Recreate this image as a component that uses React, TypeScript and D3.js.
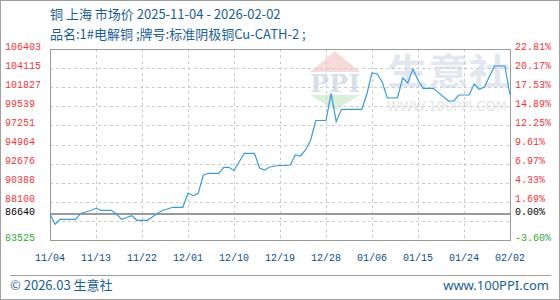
import React from "react";
import * as d3 from "d3";

const W = 560;
const H = 300;

const title = "铜 上海 市场价 2025-11-04 - 2026-02-02";
const subtitle = "品名:1#电解铜 ;牌号:标准阴极铜Cu-CATH-2 ;";
const footerLeft = "© 2026.03 生意社";
const footerRight = "www.100PPI.com";

const startDate = new Date(2025, 10, 4);
const endDate = new Date(2026, 1, 2);

const prices = [
  86640, 85406, 86005, 86005, 86005, 86005, 86699, 86879, 87059, 87322,
  87083, 87083, 87083, 86640, 86005, 86220, 86436, 85885, 85885, 85885,
  86280, 86699, 87059, 87238, 87442, 87442, 87442, 89155, 88831, 89119,
  91311, 91514, 91514, 91514, 92233, 92233, 91850, 92868, 93910, 93910,
  93910, 92149, 91910, 92269, 92389, 92449, 92449, 92509, 93706, 93587,
  94305, 95503, 97839, 97839, 97839, 101097, 97695, 99180, 99180, 99180,
  99180, 99180, 101013, 103564, 103408, 102450, 100534, 100534, 100570, 102929,
  102330, 104007, 102690, 101696, 101696, 101696, 101181, 100654, 100174, 100174,
  100893, 100893, 100893, 102211, 101576, 101851, 103169, 104367, 104367, 104367,
  100893,
];

const xLabels = ["11/04", "11/13", "11/22", "12/01", "12/10", "12/19", "12/28", "01/06", "01/15", "01/24", "02/02"];
const xLabelDates = [
  new Date(2025, 10, 4), new Date(2025, 10, 13), new Date(2025, 10, 22), new Date(2025, 11, 1),
  new Date(2025, 11, 10), new Date(2025, 11, 19), new Date(2025, 11, 28), new Date(2026, 0, 6),
  new Date(2026, 0, 15), new Date(2026, 0, 24), new Date(2026, 1, 2),
];

const yMax = 106403;
const yMin = 83525;
const baseValue = 86640;
const yTickValues = [106403, 104115, 101827, 99539, 97251, 94964, 92676, 90388, 88100, 83525];
const pctLabels = ["22.81%", "20.17%", "17.53%", "14.89%", "12.25%", "9.61%", "6.97%", "4.33%", "1.69%", "-3.60%"];
const gridValues = [104115, 101827, 99539, 97251, 94964, 92676, 90388, 88100, 85813];

const PL = 50, PR = 510, PT = 49, PB = 240;

export default function App() {
  const dates = d3.timeDay.range(startDate, d3.timeDay.offset(endDate, 1));
  const data = prices.map((v, i) => ({ d: dates[i], v }));

  const x = d3.scaleTime().domain([startDate, endDate]).range([PL, PR]);
  const y = d3.scaleLinear().domain([yMin, yMax]).range([PB, PT]);

  const line = d3
    .line<{ d: Date; v: number }>()
    .x((p) => x(p.d))
    .y((p) => y(p.v));

  const blue = "#1b5e92";
  const red = "#f0363c";
  const green = "#36a936";
  const mono = "'Liberation Mono', 'DejaVu Sans Mono', monospace";
  const cjk = "'Noto Sans CJK SC', 'Noto Sans', sans-serif";

  return (
    <svg
      width={W}
      height={H}
      style={{ position: "absolute", left: 0, top: 0, background: "#fff" }}
    >
      <rect x={0.5} y={0.5} width={W - 1} height={H - 1} fill="#fff" stroke="#a0a0a0" />

      {/* watermark */}
      <g>
        <polygon points="335,51 310,72 360,72" fill="#f7dada" />
        <text x={310} y={92} textLength={50} lengthAdjust="spacingAndGlyphs" fontFamily="'DejaVu Serif', serif" fontWeight="bold" fontSize={24} fill="#d8dfea">PPI</text>
        <polygon points="310,95 360,95 335,110" fill="#d9efd9" />
        <text x={387} y={85} textLength={123} lengthAdjust="spacingAndGlyphs" fontFamily={cjk} fontWeight="bold" fontSize={36} fill="#e2e7ef">生意社</text>
        <text x={387} y={111} textLength={120} lengthAdjust="spacingAndGlyphs" fontFamily="'DejaVu Sans', sans-serif" fontSize={14} fill="#e6e6e6">WWW.100PPI.COM</text>
      </g>

      {/* grid */}
      {gridValues.map((v) => (
        <line key={"g" + v} x1={PL} x2={PR} y1={Math.round(y(v)) + 0.5} y2={Math.round(y(v)) + 0.5} stroke="#cccccc" strokeDasharray="3,3" />
      ))}
      {xLabelDates.slice(1, -1).map((d, i) => (
        <line key={"v" + i} x1={Math.round(x(d)) + 0.5} x2={Math.round(x(d)) + 0.5} y1={PT} y2={PB} stroke="#cccccc" strokeDasharray="3,3" />
      ))}

      {/* frame */}
      <rect x={PL + 0.5} y={PT + 0.5} width={PR - PL} height={PB - PT} fill="none" stroke="#9a9a9a" />
      <line x1={PL} x2={PR} y1={y(baseValue)} y2={y(baseValue)} stroke="#999" strokeWidth={2} />

      {/* data line */}
      <path d={line(data) || ""} fill="none" stroke="#3d9ad8" strokeWidth={1.2} />

      {/* left axis */}
      {yTickValues.map((v, i) => (
        <text key={"l" + v} x={5} y={y(v) - 2} dominantBaseline="middle" fontFamily={mono} fontSize={10} fill={i === yTickValues.length - 1 ? green : red}>
          {v}
        </text>
      ))}
      <text x={5} y={y(baseValue) - 1.5} dominantBaseline="middle" fontFamily={mono} fontSize={10} fill="#000">{baseValue}</text>

      {/* right axis */}
      {yTickValues.map((v, i) => (
        <text key={"r" + v} x={515} y={y(v) - 2} dominantBaseline="middle" fontFamily={mono} fontSize={10} fill={i === yTickValues.length - 1 ? green : red}>
          {pctLabels[i]}
        </text>
      ))}
      <text x={515} y={y(baseValue) - 1.5} dominantBaseline="middle" fontFamily={mono} fontSize={10} fill="#000">0.00%</text>

      {/* x labels */}
      {xLabels.map((t, i) => (
        <text key={"x" + t} x={x(xLabelDates[i])} y={261} textAnchor="middle" fontFamily={mono} fontSize={10} fill="#0c4f86">
          {t}
        </text>
      ))}

      {/* titles */}
      <text x={50} y={19} fontFamily={cjk} fontSize={13} fill={blue}>{title}</text>
      <text x={50} y={39} fontFamily={cjk} fontSize={13} fill={blue}>{subtitle}</text>

      {/* footer */}
      <line x1={10} x2={551} y1={275.5} y2={275.5} stroke="#a0a0a0" />
      <text x={10} y={290} fontFamily={cjk} fontSize={13} fill={blue}>{footerLeft}</text>
      <text x={549} y={290} textAnchor="end" fontFamily="'Noto Sans', sans-serif" fontSize={13} fill={blue}>{footerRight}</text>
    </svg>
  );
}
